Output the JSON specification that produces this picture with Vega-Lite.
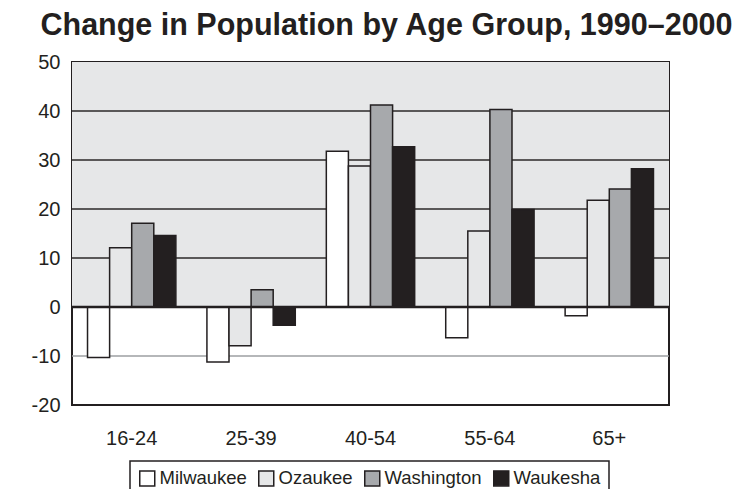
{
  "$schema": "https://vega.github.io/schema/vega-lite/v6.json",
  "width": 597,
  "height": 343,
  "autosize": "none",
  "padding": {"left": 72, "top": 62, "right": 69, "bottom": 84},
  "title": {
    "text": "Change in Population by Age Group, 1990–2000",
    "font": "Liberation Sans",
    "fontSize": 30.5,
    "fontWeight": "bold",
    "color": "#231f20",
    "anchor": "middle",
    "dx": 16,
    "offset": 11
  },
  "config": {
    "view": {"stroke": "#231f20", "strokeWidth": 2},
    "font": "Liberation Sans",
    "axis": {"labelFont": "Liberation Sans", "labelColor": "#231f20"},
    "legend": {"labelFont": "Liberation Sans"}
  },
  "datasets": {
    "bars": [
      {"age": "16-24", "county": "Milwaukee", "change": -10.3},
      {"age": "16-24", "county": "Ozaukee", "change": 12.1},
      {"age": "16-24", "county": "Washington", "change": 17.1},
      {"age": "16-24", "county": "Waukesha", "change": 14.6},
      {"age": "25-39", "county": "Milwaukee", "change": -11.2},
      {"age": "25-39", "county": "Ozaukee", "change": -7.9},
      {"age": "25-39", "county": "Washington", "change": 3.5},
      {"age": "25-39", "county": "Waukesha", "change": -3.7},
      {"age": "40-54", "county": "Milwaukee", "change": 31.8},
      {"age": "40-54", "county": "Ozaukee", "change": 28.8},
      {"age": "40-54", "county": "Washington", "change": 41.2},
      {"age": "40-54", "county": "Waukesha", "change": 32.7},
      {"age": "55-64", "county": "Milwaukee", "change": -6.3},
      {"age": "55-64", "county": "Ozaukee", "change": 15.5},
      {"age": "55-64", "county": "Washington", "change": 40.3},
      {"age": "55-64", "county": "Waukesha", "change": 19.9},
      {"age": "65+", "county": "Milwaukee", "change": -1.8},
      {"age": "65+", "county": "Ozaukee", "change": 21.8},
      {"age": "65+", "county": "Washington", "change": 24.1},
      {"age": "65+", "county": "Waukesha", "change": 28.2}
    ],
    "grid": [
      {"g": -10, "kind": "below"},
      {"g": 10, "kind": "above"},
      {"g": 20, "kind": "above"},
      {"g": 30, "kind": "above"},
      {"g": 40, "kind": "above"}
    ]
  },
  "layer": [
    {
      "data": {"values": [{"top": 50, "bottom": 0}]},
      "mark": {"type": "rect", "color": "#e6e7e8"},
      "encoding": {
        "y": {"field": "top", "type": "quantitative", "scale": {"domain": [-20, 50], "nice": false}},
        "y2": {"field": "bottom"},
        "x": {"value": 0},
        "x2": {"value": "width"}
      }
    },
    {
      "data": {"name": "grid"},
      "mark": {"type": "rule", "strokeWidth": 1.3},
      "encoding": {
        "y": {"field": "g", "type": "quantitative"},
        "color": {
          "condition": {"test": "datum.kind === 'below'", "value": "#9d9fa2"},
          "value": "#2b2829"
        }
      }
    },
    {
      "data": {"name": "bars"},
      "mark": {"type": "bar", "stroke": "#231f20", "strokeWidth": 1.5},
      "encoding": {
        "x": {
          "field": "age",
          "type": "nominal",
          "sort": null,
          "scale": {"paddingInner": 0.26, "paddingOuter": 0.13},
          "axis": {
            "title": null,
            "labelAngle": 0,
            "domain": false,
            "ticks": false,
            "labelFontSize": 20,
            "labelPadding": 23
          }
        },
        "xOffset": {"field": "county", "type": "nominal", "sort": null, "scale": {"paddingInner": 0, "paddingOuter": 0}},
        "y": {
          "field": "change",
          "type": "quantitative",
          "axis": {
            "title": null,
            "values": [-20, -10, 0, 10, 20, 30, 40, 50],
            "labelExpr": "datum.value < 0 ? '-' + abs(datum.value) : '' + datum.value",
            "grid": false,
            "domain": false,
            "ticks": false,
            "labelFontSize": 20,
            "labelPadding": 12
          }
        },
        "fill": {
          "field": "county",
          "type": "nominal",
          "sort": null,
          "scale": {
            "domain": ["Milwaukee", "Ozaukee", "Washington", "Waukesha"],
            "range": ["#ffffff", "#e6e7e8", "#a7a9ac", "#231f20"]
          },
          "legend": {
            "title": null,
            "orient": "none",
            "legendX": 58,
            "legendY": 399,
            "direction": "horizontal",
            "columns": 4,
            "strokeColor": "#231f20",
            "padding": 8,
            "symbolType": "square",
            "symbolSize": 225,
            "symbolStrokeColor": "#231f20",
            "symbolStrokeWidth": 1.5,
            "labelFontSize": 18.5,
            "labelColor": "#231f20",
            "labelOffset": 3,
            "columnPadding": 8,
            "encode": {"legend": {"update": {"strokeWidth": {"value": 1.5}}}}
          }
        }
      }
    },
    {
      "data": {"values": [{"z": 0}]},
      "mark": {"type": "rule", "strokeWidth": 2.5, "color": "#231f20"},
      "encoding": {"y": {"field": "z", "type": "quantitative"}}
    }
  ]
}
